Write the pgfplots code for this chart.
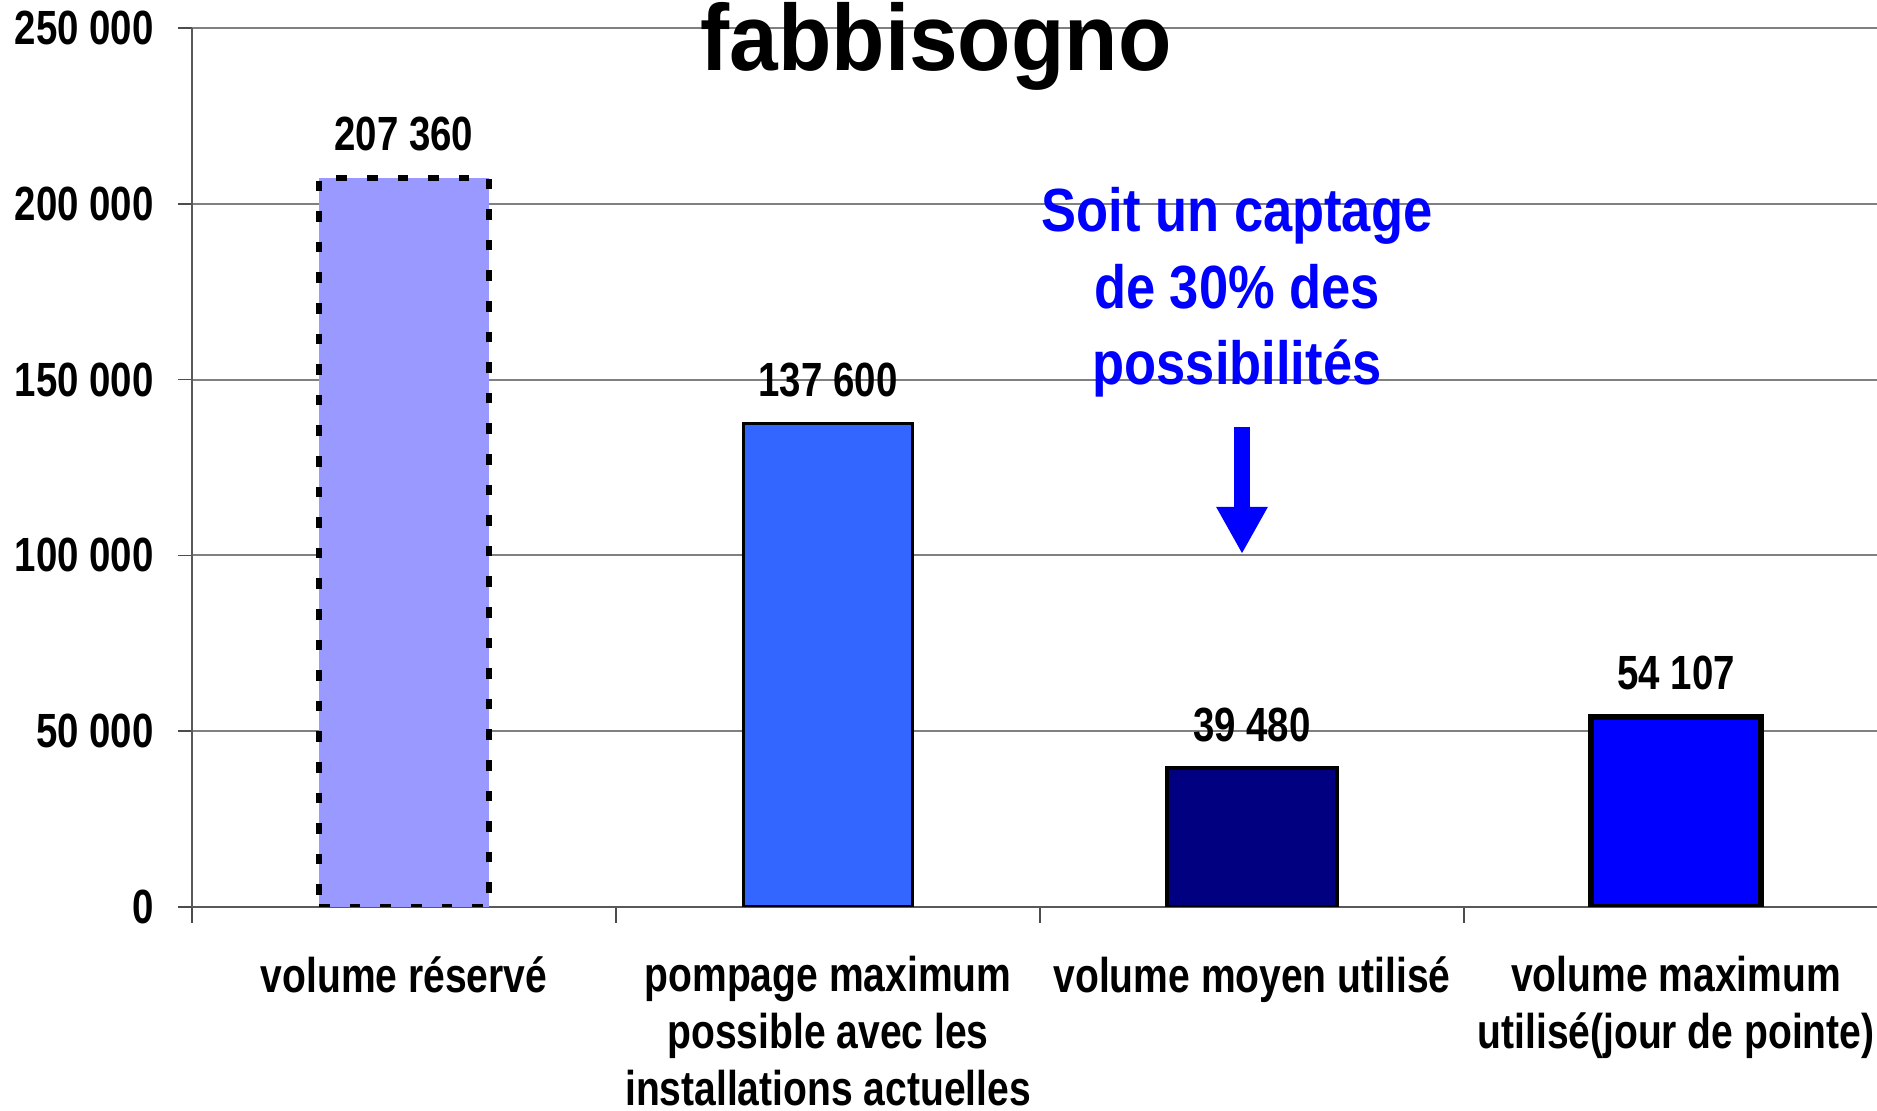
\documentclass[border=0pt]{standalone}
\usepackage{pgfplots}
\pgfplotsset{compat=1.18}
\usepackage{fontspec}
\usetikzlibrary{arrows.meta}
\setmainfont{Liberation Sans}
\newfontfamily\cond[FakeStretch=0.8]{Liberation Sans}
\newfontfamily\annf[FakeStretch=0.86]{Liberation Sans}
\newfontfamily\tfont[FakeStretch=0.93]{Liberation Sans}
\definecolor{barA}{HTML}{9999FF}
\definecolor{barB}{HTML}{3366FF}
\definecolor{barC}{HTML}{000080}
\definecolor{barD}{HTML}{0000FF}
\definecolor{gridc}{HTML}{808080}
\newcommand{\labfont}{\cond\bfseries\fontsize{24}{28}\selectfont}
\newcommand{\catfont}{\cond\bfseries\fontsize{24.4}{28.4}\selectfont}
\newcommand{\annfont}{\annf\bfseries\fontsize{30.5}{38.25}\selectfont}
\begin{document}
\begin{tikzpicture}
\useasboundingbox (0,0) rectangle (938.5pt,555.5pt);
\begin{axis}[
  at={(96pt,102pt)}, anchor=south west,
  scale only axis, width=842.5pt, height=439.5pt,
  xmin=-0.5, xmax=3.474, ymin=0, ymax=250000,
  axis x line*=bottom, axis y line*=left,
  axis line style={-, draw=black!65, line width=1pt},
  scaled y ticks=false,
  ytick={0,50000,100000,150000,200000,250000},
  yticklabels={0,50 000,100 000,150 000,200 000,250 000},
  yticklabel style={font=\labfont, anchor=east, inner sep=0pt, xshift=-12pt},
  ymajorgrids, major grid style={draw=gridc, line width=1pt},
  tick align=outside,
  major tick length=7pt, minor tick length=8pt,
  tick style={draw=black!70, line width=0.8pt},
  xtick={0,1,2,3},
  xticklabels={volume réservé,{pompage maximum\\possible avec les\\installations actuelles},volume moyen utilisé,{volume maximum\\utilisé(jour de pointe)}},
  major x tick style={draw=none},
  minor xtick={-0.5,0.5,1.5,2.5},
  xticklabel style={font=\catfont, align=center, anchor=north, inner sep=0pt, yshift=-17.5pt},
  every node near coord/.append style={font=\labfont, text=black, anchor=base, yshift=13.5pt},
]
\addplot[ybar, bar width=0.4, bar shift=0pt, fill=barA, draw=black, line width=3pt, dash pattern=on 5.3pt off 10pt,
  nodes near coords, point meta=explicit symbolic] coordinates {(0,207360) [207 360]};
\addplot[ybar, bar width=0.4, bar shift=0pt, fill=barB, draw=black, line width=1.5pt,
  nodes near coords, point meta=explicit symbolic] coordinates {(1,137600) [137 600]};
\addplot[ybar, bar width=0.4, bar shift=0pt, fill=barC, draw=black, line width=2.2pt,
  nodes near coords, point meta=explicit symbolic] coordinates {(2,39480) [39 480]};
\addplot[ybar, bar width=0.4, bar shift=0pt, fill=barD, draw=black, line width=3pt,
  nodes near coords, point meta=explicit symbolic] coordinates {(3,54107) [54 107]};
\node[anchor=base, text=barD, font=\annfont, inner sep=0pt] at (axis cs:1.9646,191980) {Soit un captage};
\node[anchor=base, text=barD, font=\annfont, inner sep=0pt] at (axis cs:1.9646,170222) {de 30\% des};
\node[anchor=base, text=barD, font=\annfont, inner sep=0pt] at (axis cs:1.9646,148464) {possibilités};
\draw[barD, line width=8pt, -{Triangle[width=24pt,length=23.5pt]}] (axis cs:1.9764,136519) -- (axis cs:1.9764,100398);
\end{axis}
\node[anchor=base, font=\tfont\bfseries\fontsize{47}{50}\selectfont, inner sep=0pt] at (468pt,520pt) {fabbisogno};
\end{tikzpicture}
\end{document}
